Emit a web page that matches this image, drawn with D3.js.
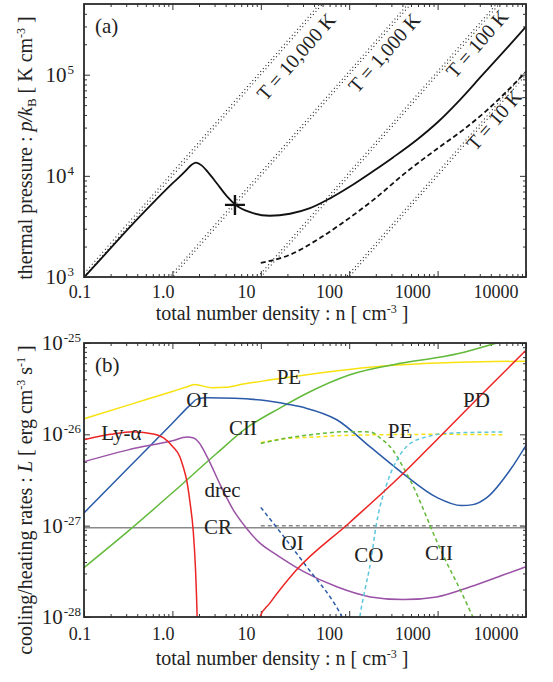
<!DOCTYPE html>
<html>
<head>
<meta charset="utf-8">
<script src="https://cdn.jsdelivr.net/npm/d3@7"></script>
<style>
  body { margin: 0; background: #fff; }
  text { font-family: "Liberation Serif", "Times New Roman", serif; fill: #222; }
</style>
</head>
<body>
<div id="chart"></div>
<script>
// ---- shared density axis ----
const densTicks = [0.1, 1, 10, 100, 1000, 10000];
const densLabels = ["0.1", "1.0", "10", "100", "1000", "10000"];

// ---- panel (a): thermal pressure ----
const pressTicks = [1e3, 1e4, 1e5];
const pressExp = ["3", "4", "5"];
const isoTemps = [10000, 1000, 100, 10];
const isoLabels = ["T = 10,000 K", "T = 1,000 K", "T = 100 K", "T = 10 K"];
const isoLabelAt = [[25, 1.51e5], [248, 1.65e5], [2790, 2.03e5], [4350, 3.58e4]];
// equilibrium curve (solid) [n, p/k]
const eqCurve = [
  [0.1, 990], [0.178, 1720], [0.316, 2990], [0.562, 5070], [1.0, 8410],
  [1.41, 11200], [1.58, 12450], [1.85, 13500], [2.14, 12700], [2.51, 10960],
  [3.16, 8510], [4.12, 6310], [5.25, 5130], [7.59, 4370], [12.6, 4030],
  [21.4, 4220], [36, 4790], [60, 5960], [100, 7760], [186, 11100],
  [316, 15300], [589, 22900], [1000, 33900], [1780, 56200], [3160, 97700],
  [5620, 170000], [10000, 298500]
];
// dense branch (dashed)
const denseCurve = [
  [10, 1380], [21.4, 1660], [43.7, 2340], [79.4, 3310], [186, 5750],
  [447, 10960], [1070, 19500], [1950, 28500], [3630, 44700], [10000, 107000]
];
const marker = [5.1, 5160];

// ---- panel (b): cooling / heating rates ----
const rateTicks = [1e-28, 1e-27, 1e-26, 1e-25];
const rateExp = ["-28", "-27", "-26", "-25"];
const peSolid = [[0.1, 1.48e-26], [0.316, 2.09e-26], [1, 2.95e-26], [1.41, 3.27e-26], [1.78, 3.51e-26],
  [2.82, 3.24e-26], [4.0, 3.27e-26], [6.3, 3.55e-26], [10, 3.80e-26], [15.8, 4.07e-26], [31.6, 4.47e-26],
  [100, 5.13e-26], [316, 5.69e-26], [1000, 6.03e-26], [3160, 6.24e-26], [10000, 6.31e-26]];
const ciiSolid = [[0.1, 3.47e-28], [0.316, 8.71e-28], [1, 2.29e-27], [3.16, 6.17e-27], [6.92, 1.175e-26],
  [16.6, 1.95e-26], [31.6, 2.75e-26], [100, 4.47e-26], [398, 6.03e-26], [1000, 6.92e-26],
  [1995, 7.94e-26], [4677, 1.0e-25], [7943, 1.17e-25]];
const oiSolid = [[0.1, 1.38e-27], [0.316, 4.27e-27], [1, 1.32e-26], [1.585, 2.09e-26], [1.905, 2.43e-26],
  [2.51, 2.51e-26], [5.01, 2.48e-26], [10, 2.37e-26], [19.95, 2.14e-26], [31.6, 1.95e-26], [72.4, 1.445e-26],
  [174, 7.24e-27], [407, 3.72e-27], [977, 2.04e-27], [1862, 1.66e-27], [2512, 1.70e-27], [3631, 2.04e-27],
  [6607, 4.07e-27], [10000, 7.59e-27]];
const lyaSolid = [[0.1, 8.71e-27], [0.2, 1.0e-26], [0.355, 1.07e-26], [0.631, 1.0e-26], [0.794, 9.12e-27],
  [1.0, 7.41e-27], [1.22, 5.62e-27], [1.318, 4.47e-27], [1.462, 3.02e-27], [1.585, 1.78e-27],
  [1.718, 8.91e-28], [1.82, 3.55e-28], [1.905, 1.0e-28], [1.95, 3.2e-29]];
const pdSolid = [[9.3, 7.9e-29], [9.77, 1.0e-28], [12.6, 1.41e-28], [25.1, 3.24e-28], [100, 1.07e-27],
  [407, 3.72e-27], [1000, 8.91e-27], [3162, 2.75e-26], [10000, 8.32e-26]];
const drecSolid = [[0.1, 5.01e-27], [0.316, 6.76e-27], [1, 8.51e-27], [1.462, 9.33e-27], [1.738, 9.12e-27],
  [1.995, 8.13e-27], [2.455, 5.75e-27], [3.467, 2.82e-27], [4.898, 1.48e-27], [6.918, 9.33e-28],
  [10, 6.31e-28], [14.1, 5.01e-28], [30.2, 3.16e-28], [72.4, 2.14e-28], [174, 1.66e-28],
  [407, 1.55e-28], [977, 1.66e-28], [2344, 2.14e-28], [5495, 2.88e-28], [10000, 3.55e-28]];
const crSolid = [[0.1, 9.5e-28], [10000, 9.5e-28]];
const crDashed = [[10, 1.0e-27], [10000, 1.0e-27]];
const peDashed = [[10, 8.13e-27], [17.8, 8.91e-27], [39.8, 9.33e-27], [100, 9.77e-27], [1000, 1.0e-26], [5754, 9.89e-27]];
const ciiDashed = [[10, 7.94e-27], [19.95, 9.12e-27], [39.8, 1.0e-26], [100, 1.07e-26], [174, 1.06e-26],
  [224, 9.12e-27], [316, 6.61e-27], [407, 4.37e-27], [501, 3.02e-27], [676, 1.585e-27], [891, 8.32e-28],
  [1259, 3.98e-28], [1660, 2.34e-28], [2512, 1.0e-28], [2818, 7.9e-29]];
const coDashed = [[126, 7.1e-29], [132, 1.0e-28], [151, 2.0e-28], [174, 3.89e-28], [204, 1.07e-27],
  [269, 2.95e-27], [347, 5.25e-27], [490, 7.94e-27], [813, 9.55e-27], [1148, 1.02e-26],
  [2512, 1.05e-26], [5754, 1.06e-26]];
const oiDashed = [[10, 1.585e-27], [30.2, 3.98e-28], [83.2, 1.0e-28], [91.2, 8.4e-29]];

const rateSeries = [
  { data: crSolid, color: "#8a8a8a", dash: null },
  { data: crDashed, color: "#8a8a8a", dash: "4,3" },
  { data: peSolid, color: "#f7e20f", dash: null },
  { data: ciiSolid, color: "#62b93a", dash: null },
  { data: oiSolid, color: "#2b5ba8", dash: null },
  { data: drecSolid, color: "#9a52a6", dash: null },
  { data: lyaSolid, color: "#ec2424", dash: null },
  { data: peDashed, color: "#f7e20f", dash: "4,3" },
  { data: ciiDashed, color: "#62b93a", dash: "4,3" },
  { data: coDashed, color: "#5cc6dc", dash: "4,3" },
  { data: oiDashed, color: "#2b5ba8", dash: "4,3" },
  { data: pdSolid, color: "#ec2424", dash: null }
];
const rateLabels = [
  ["PE", 20.8, 3.56e-26], ["OI", 1.92, 2.0e-26], ["CII", 6.3, 9.8e-27], ["Ly-\u03b1", 0.265, 8.7e-27],
  ["drec", 3.69, 2.06e-27], ["CR", 3.28, 8.1e-28], ["PD", 2750, 2.0e-26], ["PE", 376, 9.1e-27],
  ["OI", 22.9, 5.4e-28], ["CO", 167, 4.0e-28], ["CII", 1040, 4.2e-28]
];

// ---- layout ----
const width = 553, height = 682;
const left = 84, right = 526;
const svg = d3.select("#chart").append("svg").attr("width", width).attr("height", height);

const x = d3.scaleLog().domain([0.1, 1e4]).range([left, right]);
// tick labels in the original sit on a slightly tighter spacing
const xLab = d3.scaleLog().domain([0.1, 1e4]).range([80, 496]);

const pA = { top: 4, bottom: 277 };
const pB = { top: 343, bottom: 617 };
const yA = d3.scaleLog().domain([1e3, 5e5]).range([pA.bottom, pA.top]);
const yB = d3.scaleLog().domain([1e-28, 1e-25]).range([pB.bottom, pB.top]);

function minorTicks(lo, hi) {
  const out = [];
  for (let e = Math.floor(Math.log10(lo) + 1e-9); e < Math.ceil(Math.log10(hi) - 1e-9); e++) {
    for (let k = 2; k <= 9; k++) {
      const v = k * Math.pow(10, e);
      if (v > lo * 1.0001 && v < hi * 0.9999) out.push(v);
    }
  }
  return out;
}

function drawFrame(p, y, yMajor, yExp, expEnd, labBase, titleBase, clipId) {
  const g = svg.append("g");
  svg.append("clipPath").attr("id", clipId).append("rect")
    .attr("x", left).attr("y", p.top).attr("width", right - left).attr("height", p.bottom - p.top);

  const xMinor = minorTicks(0.1, 1e4);
  const yMinor = minorTicks(y.domain()[0], y.domain()[1]);
  const specs = [
    [d3.axisBottom(x), `translate(0,${p.bottom})`, densTicks, xMinor],
    [d3.axisTop(x), `translate(0,${p.top})`, densTicks, xMinor],
    [d3.axisLeft(y), `translate(${left},0)`, yMajor, yMinor],
    [d3.axisRight(y), `translate(${right},0)`, yMajor, yMinor]
  ];
  specs.forEach(([ax, tr, major, minor]) => {
    const a1 = g.append("g").attr("transform", tr)
      .call(ax.tickValues(major).tickSize(-6).tickFormat(""));
    a1.select(".domain").remove();
    const a2 = g.append("g").attr("transform", tr)
      .call(ax.tickValues(minor).tickSize(-3).tickFormat(""));
    a2.select(".domain").remove();
  });
  g.selectAll(".tick line").attr("stroke", "#333").attr("stroke-width", 1);

  // x tick labels
  g.selectAll(".xlab").data(densTicks).enter().append("text")
    .attr("x", d => xLab(d)).attr("y", labBase)
    .attr("text-anchor", "middle").style("font-size", "18px")
    .text((d, i) => densLabels[i]);

  // y tick labels 10^n
  yMajor.forEach((v, i) => {
    const t = g.append("text").attr("x", expEnd).attr("y", y(v) + 7)
      .attr("text-anchor", "end").style("font-size", "21px");
    t.append("tspan").text("10");
    t.append("tspan").attr("dy", -8).attr("dx", 1).style("font-size", "13px").text(yExp[i]);
  });

  // x title
  const xt = g.append("text").attr("x", 282).attr("y", titleBase)
    .attr("text-anchor", "middle").style("font-size", "20px");
  xt.append("tspan").text("total number density : n [ cm");
  xt.append("tspan").attr("dy", -7).style("font-size", "12px").text("-3");
  xt.append("tspan").attr("dy", 7).text(" ]");
  return g;
}

function drawBorder(p) {
  svg.append("rect").attr("x", left).attr("y", p.top)
    .attr("width", right - left).attr("height", p.bottom - p.top)
    .attr("fill", "none").attr("stroke", "#2a2a2a").attr("stroke-width", 1.8);
}

// ================= panel (a) =================
drawFrame(pA, yA, pressTicks, pressExp, 74, 298, 320, "clipA");

const gA = svg.append("g").attr("clip-path", "url(#clipA)");
const lineA = d3.line().x(d => x(d[0])).y(d => yA(d[1])).curve(d3.curveMonotoneX);

// isotherms p/k = n T (drawn as a close pair, as in the figure)
isoTemps.forEach(T => {
  [1, 1.08].forEach(f => {
    gA.append("path")
      .datum([[0.1, 0.1 * T * f], [1e4, 1e4 * T * f]])
      .attr("fill", "none").attr("stroke", "#222").attr("stroke-width", 1.1)
      .attr("stroke-dasharray", "1,3")
      .attr("d", d3.line().x(d => x(d[0])).y(d => yA(d[1])));
  });
});

gA.append("path").datum(eqCurve)
  .attr("fill", "none").attr("stroke", "#111").attr("stroke-width", 1.8)
  .attr("d", lineA);
gA.append("path").datum(denseCurve)
  .attr("fill", "none").attr("stroke", "#111").attr("stroke-width", 1.8)
  .attr("stroke-dasharray", "5,3")
  .attr("d", lineA);

// isotherm labels, rotated along the line slope
const isoAngle = Math.atan2(yA(1e4) - yA(1e3), x(10) - x(1)) * 180 / Math.PI;
isoLabels.forEach((lab, i) => {
  const [n, p] = isoLabelAt[i];
  svg.append("text")
    .attr("transform", `translate(${x(n)},${yA(p)}) rotate(${isoAngle})`)
    .attr("text-anchor", "middle").attr("dy", "0.35em")
    .style("font-size", "20px").text(lab);
});

// marker
const mx = x(marker[0]), my = yA(marker[1]);
svg.append("path")
  .attr("d", `M${mx - 10},${my}H${mx + 10}M${mx},${my - 10}V${my + 10}`)
  .attr("stroke", "#111").attr("stroke-width", 2.4);

svg.append("text").attr("x", left + 11).attr("y", pA.top + 29)
  .style("font-size", "21px").text("(a)");

const ta = svg.append("text").attr("transform", "translate(32,148) rotate(-90)")
  .attr("text-anchor", "middle").style("font-size", "20px");
ta.append("tspan").text("thermal pressure : ");
ta.append("tspan").style("font-style", "italic").text("p/k");
ta.append("tspan").attr("dy", 4).style("font-size", "13px").text("B");
ta.append("tspan").attr("dy", -4).text(" [ K cm");
ta.append("tspan").attr("dy", -7).style("font-size", "12px").text("-3");
ta.append("tspan").attr("dy", 7).text(" ]");

drawBorder(pA);

// ================= panel (b) =================
drawFrame(pB, yB, rateTicks, rateExp, 81, 640, 665, "clipB");

const gB = svg.append("g").attr("clip-path", "url(#clipB)");
const lineB = d3.line().x(d => x(d[0])).y(d => yB(d[1])).curve(d3.curveMonotoneX);

rateSeries.forEach(s => {
  gB.append("path").datum(s.data)
    .attr("fill", "none").attr("stroke", s.color).attr("stroke-width", 1.5)
    .attr("stroke-dasharray", s.dash)
    .attr("d", lineB);
});

rateLabels.forEach(([lab, n, L]) => {
  svg.append("text").attr("x", x(n)).attr("y", yB(L))
    .attr("text-anchor", "middle").style("font-size", "21px").text(lab);
});

svg.append("text").attr("x", left + 11).attr("y", pB.top + 29)
  .style("font-size", "21px").text("(b)");

const tb = svg.append("text").attr("transform", "translate(32,500) rotate(-90)")
  .attr("text-anchor", "middle").style("font-size", "20px");
tb.append("tspan").text("cooling/heating rates : ");
tb.append("tspan").style("font-style", "italic").text("L");
tb.append("tspan").text(" [ erg cm");
tb.append("tspan").attr("dy", -7).style("font-size", "12px").text("-3");
tb.append("tspan").attr("dy", 7).text(" s");
tb.append("tspan").attr("dy", -7).style("font-size", "12px").text("-1");
tb.append("tspan").attr("dy", 7).text(" ]");

drawBorder(pB);
</script>
</body>
</html>
